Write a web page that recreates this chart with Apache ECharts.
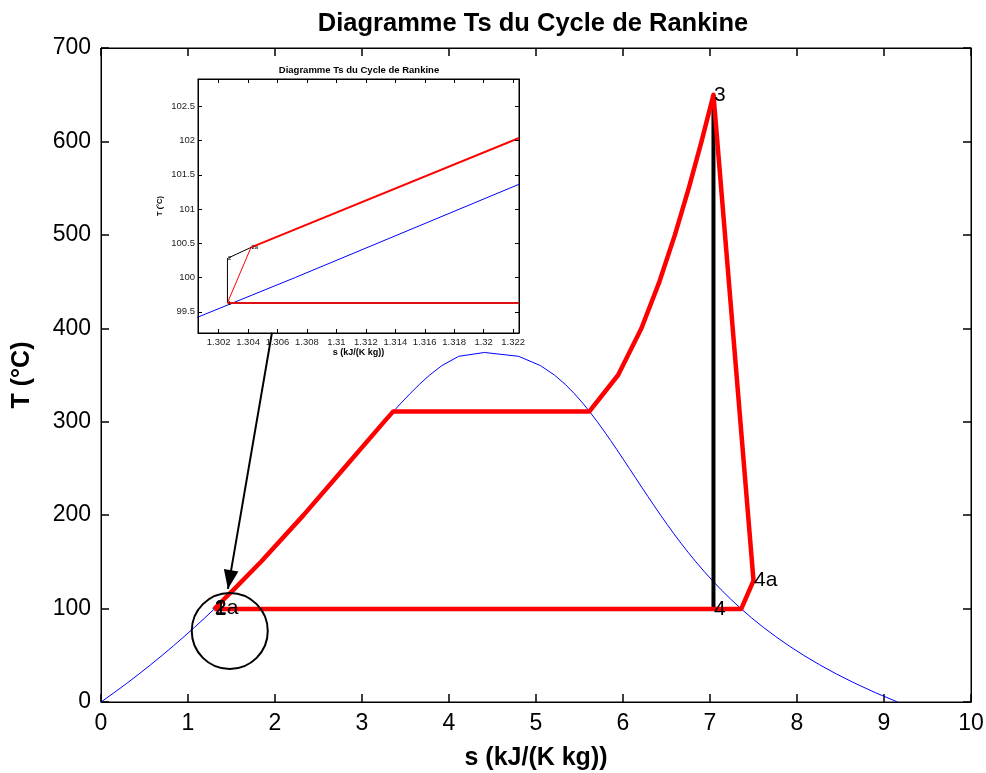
<!DOCTYPE html>
<html>
<head>
<meta charset="utf-8">
<title>Diagramme Ts du Cycle de Rankine</title>
<script src="https://cdn.jsdelivr.net/npm/echarts@6/dist/echarts.min.js"></script>
<style>
  html, body { margin: 0; padding: 0; background: #fff; }
  #chart { width: 986px; height: 773px; }
</style>
</head>
<body>
<div id="chart"></div>
<script>
// courbe de saturation (T en °C, s en kJ/(K kg))
const satT = [0.01, 10, 20, 30, 40, 50, 60, 70, 80, 90, 100, 110, 120, 130, 140, 150, 160, 170, 180, 190,
  200, 210, 220, 230, 240, 250, 260, 270, 280, 290, 300, 310, 320, 330, 340, 350, 360, 370, 374.1];
const sLiq = [0, 0.151, 0.2966, 0.4369, 0.5725, 0.7038, 0.8313, 0.9551, 1.0756, 1.1929, 1.3072, 1.4188,
  1.5279, 1.6346, 1.7392, 1.8418, 1.9426, 2.0417, 2.1392, 2.2355, 2.3305, 2.4245, 2.5177, 2.6101, 2.702,
  2.7935, 2.8849, 2.9765, 3.0685, 3.1612, 3.2552, 3.351, 3.4494, 3.5518, 3.6601, 3.7784, 3.9167, 4.1112, 4.407];
const sVap = [9.1562, 8.9008, 8.6672, 8.4533, 8.257, 8.0763, 7.9096, 7.7553, 7.6122, 7.4791, 7.3549, 7.2387,
  7.1296, 7.0269, 6.9299, 6.8379, 6.7502, 6.6663, 6.5857, 6.5079, 6.4323, 6.3585, 6.2861, 6.2146, 6.1437,
  6.073, 6.0019, 5.9301, 5.8571, 5.7821, 5.7045, 5.623, 5.5362, 5.4417, 5.3357, 5.2112, 5.0526, 4.8009, 4.407];

// cycle réel (rouge)
const pumpS = [1.3026, 1.3042];
const pumpT = [99.63, 100.44];
const boilerS = [1.3042, 1.4188, 1.5279, 1.8418, 2.3305, 2.7935, 3.2552, 3.3596, 5.6141, 5.9443, 6.212,
  6.419, 6.5966, 6.7561, 6.9029, 7.0398];
const boilerT = [100.44, 110.5, 120.5, 150.4, 200.3, 250.2, 300.1, 311.06, 311.06, 350, 400, 450, 500, 550, 600, 650];
const turbineS = [7.0398, 7.5];
const turbineT = [650, 130];
const condS = [7.5, 7.3594, 1.3026];
const condT = [130, 99.63, 99.63];

// transformations isentropiques (noir)
const pumpIsoS = [1.3026, 1.3026, 1.3042];
const pumpIsoT = [99.63, 100.28, 100.44];
const turbIsoS = [7.0398, 7.0398];
const turbIsoT = [650, 99.63];

// étiquettes des points
const ptNames = ['1', '2', '2a', '3', '4', '4a'];
const ptS = [1.3026, 1.3026, 1.3042, 7.0398, 7.0398, 7.5];
const ptT = [99.63, 100.28, 100.44, 650, 99.63, 130];

// annotations : cercle et flèche
const circleS = [1.48];
const circleT = [76];
const arrowS = [1.965, 1.459];
const arrowT = [395.4, 121];

// graduations
const mainXTicks = [0, 10, 1];
const mainYTicks = [0, 700, 100];
const zoomXRange = [1.3006, 1.3224];
const zoomYRange = [99.19, 102.9];
const zoomXTicks = [1.302, 1.304, 1.306, 1.308, 1.31, 1.312, 1.314, 1.316, 1.318, 1.32, 1.322];
const zoomYTicks = [99.5, 100, 100.5, 101, 101.5, 102, 102.5];

const FONT = 'Liberation Sans, Arial, Helvetica, sans-serif';
const pairs = (xs, ys) => xs.map((x, i) => [x, ys[i]]);

const dome = pairs(sLiq, satT).concat(pairs(sVap, satT).reverse());
const cycle = pairs(pumpS, pumpT).concat(pairs(boilerS, boilerT).slice(1), pairs(turbineS, turbineT).slice(1),
  pairs(condS, condT).slice(1));
const labelData = ptNames.map((n, i) => ({ name: n, value: [ptS[i], ptT[i]] }));

const myChart = echarts.init(document.getElementById('chart'));

const mainX = (pos) => ({
  type: 'value', gridIndex: 0, position: pos,
  min: mainXTicks[0], max: mainXTicks[1], interval: mainXTicks[2],
  axisLine: { show: true, onZero: false, lineStyle: { color: '#000', width: 1 } },
  axisTick: { show: true, inside: true, length: 8, lineStyle: { color: '#000', width: 1.5 } },
  axisLabel: { show: pos === 'bottom', color: '#000', fontSize: 23, fontFamily: FONT, margin: 10 },
  splitLine: { show: false }
});
const mainY = (pos) => ({
  type: 'value', gridIndex: 0, position: pos,
  min: mainYTicks[0], max: mainYTicks[1], interval: mainYTicks[2],
  axisLine: { show: true, onZero: false, lineStyle: { color: '#000', width: 1 } },
  axisTick: { show: true, inside: true, length: 8, lineStyle: { color: '#000', width: 1.5 } },
  axisLabel: { show: pos === 'left', color: '#000', fontSize: 23, fontFamily: FONT, margin: 10 },
  splitLine: { show: false }
});
const zoomX = (pos) => ({
  type: 'value', gridIndex: 1, position: pos, z: 12,
  min: zoomXRange[0], max: zoomXRange[1],
  axisLine: { show: true, onZero: false, lineStyle: { color: '#000', width: 1 } },
  axisTick: { show: true, inside: true, length: 4, customValues: zoomXTicks, lineStyle: { color: '#000' } },
  axisLabel: {
    show: pos === 'bottom', customValues: zoomXTicks, color: '#222', fontSize: 9.5, fontFamily: FONT, margin: 4,
    formatter: (v) => String(Math.round(v * 1000) / 1000)
  },
  splitLine: { show: false }
});
const zoomY = (pos) => ({
  type: 'value', gridIndex: 1, position: pos, z: 12,
  min: zoomYRange[0], max: zoomYRange[1],
  axisLine: { show: true, onZero: false, lineStyle: { color: '#000', width: 1 } },
  axisTick: { show: true, inside: true, length: 4, customValues: zoomYTicks, lineStyle: { color: '#000' } },
  axisLabel: {
    show: pos === 'left', customValues: zoomYTicks, color: '#222', fontSize: 9.5, fontFamily: FONT, margin: 3,
    formatter: (v) => String(v)
  },
  splitLine: { show: false }
});

const xAxes = [mainX('bottom'), mainX('top'), zoomX('bottom'), zoomX('top')];
xAxes[0].name = 's (kJ/(K kg))';
xAxes[0].nameLocation = 'middle';
xAxes[0].nameGap = 44;
xAxes[0].nameTextStyle = { color: '#000', fontSize: 25, fontWeight: 'bold', fontFamily: FONT };
xAxes[2].name = 's (kJ/(K kg))';
xAxes[2].nameLocation = 'middle';
xAxes[2].nameGap = 15;
xAxes[2].nameTextStyle = { color: '#000', fontSize: 9, fontWeight: 'bold', fontFamily: FONT };

const yAxes = [mainY('left'), mainY('right'), zoomY('left'), zoomY('right')];
yAxes[0].name = 'T (°C)';
yAxes[0].nameLocation = 'middle';
yAxes[0].nameGap = 66;
yAxes[0].nameTextStyle = { color: '#000', fontSize: 25, fontWeight: 'bold', fontFamily: FONT };
yAxes[2].name = 'T (°C)';
yAxes[2].nameLocation = 'middle';
yAxes[2].nameGap = 34;
yAxes[2].nameTextStyle = { color: '#000', fontSize: 7.5, fontWeight: 'bold', fontFamily: FONT };

const arrowHead = 'path://M0,18L-7,36L7,36Z M-18,0L-18,0 M18,0L18,0';

const lineSeries = (name, data, color, width, zoom) => ({
  name: name, type: 'line', data: data,
  xAxisIndex: zoom ? 2 : 0, yAxisIndex: zoom ? 2 : 0,
  showSymbol: false, symbol: 'none', clip: true,
  lineStyle: { color: color, width: width, join: 'round' },
  z: zoom ? 11 : 2, silent: true
});
const labelSeries = (size, zoom) => ({
  type: 'scatter', data: labelData,
  xAxisIndex: zoom ? 2 : 0, yAxisIndex: zoom ? 2 : 0,
  symbolSize: 1, itemStyle: { color: 'rgba(0,0,0,0)', opacity: 1 },
  label: { show: true, position: 'right', distance: 0, formatter: '{b}', color: '#000', fontSize: size, fontFamily: FONT },
  z: zoom ? 11 : 3, silent: true
});

const option = {
  animation: false,
  backgroundColor: '#fff',
  title: [
    {
      text: 'Diagramme Ts du Cycle de Rankine', left: 528, top: 6, textAlign: 'center',
      textStyle: { color: '#000', fontSize: 25.5, fontWeight: 'bold', fontFamily: FONT }
    },
    {
      text: 'Diagramme Ts du Cycle de Rankine', left: 354, top: 60, textAlign: 'center',
      textStyle: { color: '#000', fontSize: 9.5, fontWeight: 'bold', fontFamily: FONT }
    }
  ],
  grid: [
    {
      left: 101, right: 15, top: 48, bottom: 71, outerBoundsMode: 'none',
      show: true, borderColor: '#000', borderWidth: 1, backgroundColor: '#fff'
    },
    {
      left: 198, top: 79, width: 321, height: 254, outerBoundsMode: 'none',
      show: true, z: 10, borderColor: '#000', borderWidth: 1, backgroundColor: '#fff'
    }
  ],
  xAxis: xAxes,
  yAxis: yAxes,
  series: [
    lineSeries('saturation', dome, '#0000ff', 1, false),
    lineSeries('isentropique pompe', pairs(pumpIsoS, pumpIsoT), '#000', 4, false),
    lineSeries('isentropique turbine', pairs(turbIsoS, turbIsoT), '#000', 4, false),
    lineSeries('cycle', cycle, '#ff0000', 4.5, false),
    labelSeries(21, false),
    {
      type: 'scatter', xAxisIndex: 0, yAxisIndex: 0,
      data: pairs(circleS, circleT), symbol: 'circle', symbolSize: 76,
      itemStyle: { color: 'rgba(0,0,0,0)', borderColor: '#000', borderWidth: 2, opacity: 1 },
      z: 4, silent: true
    },
    {
      type: 'lines', coordinateSystem: 'cartesian2d', xAxisIndex: 0, yAxisIndex: 0,
      data: [{ coords: pairs(arrowS, arrowT) }],
      symbol: ['none', arrowHead], symbolSize: 38,
      lineStyle: { color: '#000', width: 2, opacity: 1, curveness: 0 },
      z: 13, silent: true
    },
    // zoom
    lineSeries('saturation', dome, '#0000ff', 1, true),
    lineSeries('isentropique pompe', pairs(pumpIsoS, pumpIsoT), '#000', 1, true),
    lineSeries('pompe', pairs(pumpS, pumpT), '#ff0000', 1, true),
    lineSeries('chaudiere', pairs(boilerS, boilerT), '#ff0000', 2, true),
    lineSeries('condenseur', pairs(condS, condT), '#dd1111', 2, true),
    labelSeries(6, true)
  ]
};
myChart.setOption(option);
</script>
</body>
</html>
